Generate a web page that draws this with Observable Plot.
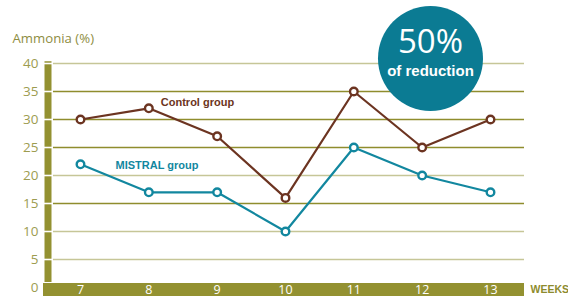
<!DOCTYPE html>
<html>
<head>
<meta charset="utf-8">
<script src="https://cdn.jsdelivr.net/npm/d3@7"></script>
<script src="https://cdn.jsdelivr.net/npm/@observablehq/plot@0.6"></script>
<style>
  html, body { margin: 0; padding: 0; background: #fff; }
  #chart svg { display: block; overflow: visible; }
</style>
</head>
<body>
<div id="chart"></div>
<script>
const weeks = [7, 8, 9, 10, 11, 12, 13];
const control = [30, 32, 27, 16, 35, 25, 30];
const mistral = [22, 17, 17, 10, 25, 20, 17];
const yTicks = [0, 5, 10, 15, 20, 25, 30, 35, 40];
const lightGrid = [40, 20, 10, 5];
const darkGrid = [35, 30, 25, 15];
const seriesNames = ["Control group", "MISTRAL group"];
const badgeBig = "50%";
const badgeSmall = "of reduction";
const yTitle = "Ammonia (%)";
const xTitle = "WEEKS";

const OLIVE = "#939131";
const BROWN = "#6c3421";
const TEAL = "#12879f";
const BADGE = "#0b7b93";

const controlData = weeks.map((w, i) => ({week: w, value: control[i]}));
const mistralData = weeks.map((w, i) => ({week: w, value: mistral[i]}));

const xDom = [6.605, 13.4976];

const chart = Plot.plot({
  width: 568,
  height: 296,
  marginLeft: 53,
  marginRight: 44,
  marginTop: 63,
  marginBottom: 9,
  x: {domain: xDom, axis: null},
  y: {domain: [0, 40], axis: null},
  style: {fontFamily: "'Open Sans', sans-serif", background: "white"},
  marks: [
    Plot.ruleY(lightGrid, {stroke: "#c6c697", strokeWidth: 1.6}),
    Plot.ruleY(darkGrid, {stroke: "#8f8d2d", strokeWidth: 1.3}),
    Plot.ruleX([xDom[0]], {y1: 0.9, y2: 40.3, stroke: OLIVE, strokeWidth: 7, dx: -5.5}),
    Plot.ruleY(yTicks.filter(d => d > 0), {x1: xDom[0], x2: xDom[0], insetLeft: -11, stroke: "white", strokeWidth: 1.6}),
    Plot.rect([0], {x1: xDom[0], x2: xDom[1], y1: 0, y2: 0, insetLeft: -10, insetTop: -4, insetBottom: -9, fill: OLIVE}),
    Plot.text(yTicks, {x: xDom[0], y: d => d, text: d => String(d), textAnchor: "end", dx: -15, fill: "#9d9c50", fontSize: 13.5}),
    Plot.text(weeks, {x: d => d, y: 0, text: d => String(d), dy: 2, fill: "white", fontSize: 12.5}),
    Plot.text([xTitle], {x: xDom[1], y: 0, text: d => d, textAnchor: "start", dx: 6, dy: 2, fill: "#8d8b2e", fontWeight: "bold", fontSize: 10.5, fontFamily: "'Liberation Sans', Arial, sans-serif"}),
    Plot.text([yTitle], {frameAnchor: "top-left", text: d => d, textAnchor: "start", lineAnchor: "middle", dx: -41, dy: -25, fill: "#8e8d42", fontSize: 13.2}),
    Plot.line(controlData, {x: "week", y: "value", stroke: BROWN, strokeWidth: 2.2}),
    Plot.dot(controlData, {x: "week", y: "value", r: 3.8, fill: "white", stroke: BROWN, strokeWidth: 2.4}),
    Plot.line(mistralData, {x: "week", y: "value", stroke: TEAL, strokeWidth: 2.2}),
    Plot.dot(mistralData, {x: "week", y: "value", r: 3.8, fill: "white", stroke: TEAL, strokeWidth: 2.4}),
    Plot.text([seriesNames[0]], {x: weeks[1], y: control[1], text: d => d, textAnchor: "start", dx: 12, dy: -6, fill: BROWN, fontWeight: "bold", fontSize: 11, fontFamily: "'Liberation Sans', Arial, sans-serif"}),
    Plot.text([seriesNames[1]], {x: weeks[0], y: mistral[0], text: d => d, textAnchor: "start", dx: 35, dy: 1, fill: TEAL, fontWeight: "bold", fontSize: 11, fontFamily: "'Liberation Sans', Arial, sans-serif"}),
    Plot.dot([0], {x: () => 12.122, y: () => 40.9, r: 52.5, fill: BADGE}),
    Plot.text([badgeBig], {x: () => 12.122, y: () => 40.9, text: d => d, dy: -16, fill: "white", fontSize: 33}),
    Plot.text([badgeSmall], {x: () => 12.122, y: () => 40.9, text: d => d, dy: 13, fill: "white", fontSize: 15, fontWeight: "bold", fontFamily: "'Liberation Sans', Arial, sans-serif"})
  ]
});
document.getElementById("chart").appendChild(chart);
</script>
</body>
</html>
